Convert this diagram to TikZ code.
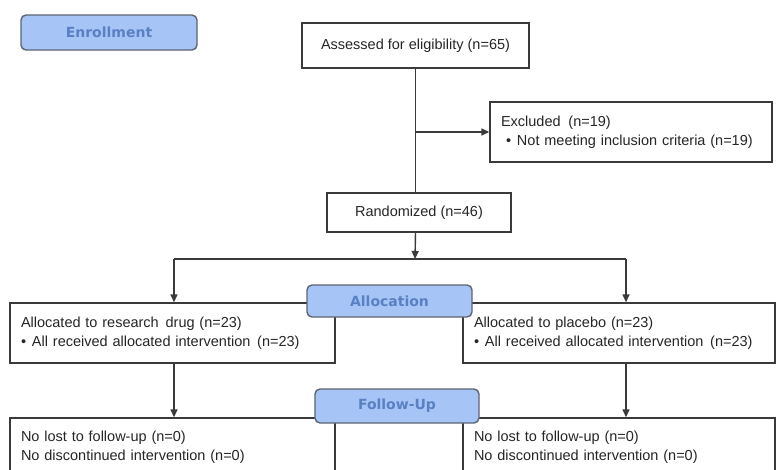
\documentclass[tikz,border=0pt]{standalone}
\usepackage{fontspec}
\setmainfont{Liberation Sans}
\newfontfamily\labfont{DejaVu Sans}
\usetikzlibrary{arrows.meta}
\definecolor{labfill}{HTML}{A6C4F6}
\definecolor{labdraw}{HTML}{5E6573}
\definecolor{labtext}{HTML}{5A80C4}
\definecolor{linecol}{HTML}{3A3A3A}
\definecolor{txtcol}{HTML}{262626}
\newcommand{\bul}{\makebox[11pt][l]{•}}
\begin{document}
\begin{tikzpicture}[x=1pt,y=-1pt,
  box/.style={draw=linecol, line width=1.4pt, fill=white, inner ysep=0pt,
    font=\fontsize{14.5}{18.5}\selectfont, text=txtcol},
  lbox/.style={box, align=left, inner xsep=11pt},
  stage/.style={draw=labdraw, line width=1.4pt, fill=labfill, rounded corners=5pt,
    inner sep=0pt, text=labtext, font=\labfont\bfseries\fontsize{14}{16}\selectfont},
  conn/.style={draw=linecol, line width=1.4pt},
  arr/.style={conn, -{Triangle[length=8pt,width=7pt]}}]
\useasboundingbox (0,0) rectangle (776,469);
\clip (0,0) rectangle (776,469);
\fill[white] (0,0) rectangle (776,469);

% boxes
\node[box, minimum width=227pt, minimum height=45pt] (assess) at (415.5,45.5) {Assessed for eligibility (n=65)};
\node[lbox, text width=260pt, minimum height=60pt] (excl) at (631,132)
  {Excluded\hspace{3pt} (n=19)\\\hspace*{5pt}\bul Not meeting inclusion criteria (n=19)};
\node[box, minimum width=184pt, minimum height=39pt] (rand) at (419,212.5) {Randomized (n=46)};
\node[lbox, text width=303pt, minimum height=60pt] (alocL) at (172.5,333)
  {Allocated to research\hspace{2pt} drug (n=23)\\\bul All received allocated intervention\hspace{2pt} (n=23)};
\node[lbox, text width=290pt, minimum height=60pt] (alocR) at (619,333)
  {Allocated to placebo (n=23)\\\bul All received allocated intervention\hspace{2pt} (n=23)};
\node[lbox, text width=303pt, minimum height=58pt] (fuL) at (172.5,447)
  {No lost to follow-up (n=0)\\No discontinued intervention (n=0)};
\node[lbox, text width=290pt, minimum height=58pt] (fuR) at (619,447)
  {No lost to follow-up (n=0)\\No discontinued intervention (n=0)};

% stage labels
\node[stage, minimum width=176pt, minimum height=35pt] (enr) at (109,32.5) {Enrollment};
\node[stage, minimum width=165pt, minimum height=32pt] (alloc) at (389.5,301) {Allocation};
\node[stage, minimum width=164pt, minimum height=34pt] (fol) at (397,406) {Follow-Up};

% connectors
\coordinate (sp) at (415,259);
\coordinate (sL) at (174,259);
\coordinate (sR) at (626,259);
\draw[conn] (assess.south) -- (assess.south |- rand.north);
\draw[arr] (assess.south |- excl.west) -- (excl.west);
\draw[arr] (assess.south |- rand.south) -- (sp);
\draw[conn] (sL) -- (sR);
\draw[arr] (sL) -- (sL |- alocL.north);
\draw[arr] (sR) -- (sR |- alocR.north);
\draw[arr] (sL |- alocL.south) -- (sL |- fuL.north);
\draw[arr] (sR |- alocR.south) -- (sR |- fuR.north);
\end{tikzpicture}
\end{document}
